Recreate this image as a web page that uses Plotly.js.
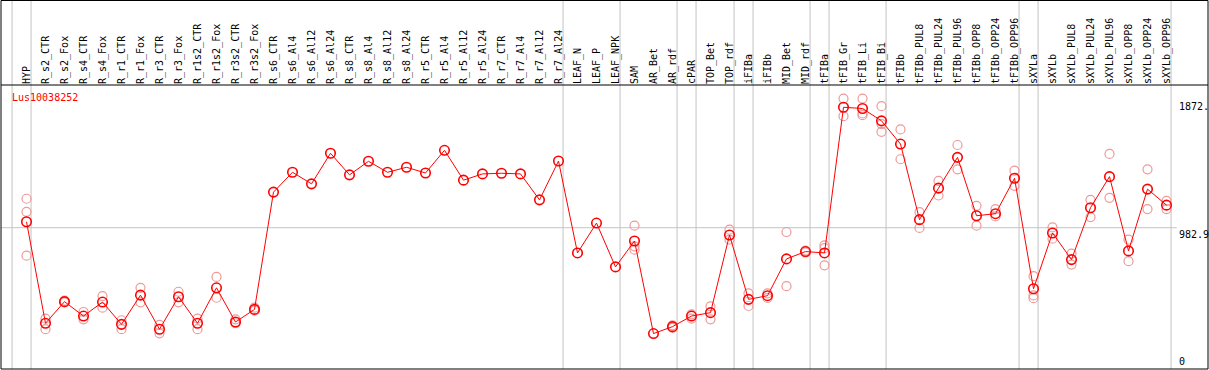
<!DOCTYPE html>
<html><head><meta charset="utf-8">
<script src="https://cdn.plot.ly/plotly-3.0.1.min.js"></script>
<style>html,body{margin:0;padding:0;background:#fff}#chart{width:1209px;height:370px}</style>
</head><body><div id="chart"></div>
<script>
const geneId = 'Lus10038252';
const categories = ['HYP','R_s2_CTR','R_s2_Fox','R_s4_CTR','R_s4_Fox','R_r1_CTR','R_r1_Fox','R_r3_CTR','R_r3_Fox','R_r1s2_CTR','R_r1s2_Fox','R_r3s2_CTR','R_r3s2_Fox','R_s6_CTR','R_s6_Al4','R_s6_Al12','R_s6_Al24','R_s8_CTR','R_s8_Al4','R_s8_Al12','R_s8_Al24','R_r5_CTR','R_r5_Al4','R_r5_Al12','R_r5_Al24','R_r7_CTR','R_r7_Al4','R_r7_Al12','R_r7_Al24','LEAF_N','LEAF_P','LEAF_NPK','SAM','AR_Bet','AR_rdf','cPAR','TOP_Bet','TOP_rdf','iFIBa','iFIBb','MID_Bet','MID_rdf','tFIBa','tFIB_Gr','tFIB_Li','tFIB_Bi','tFIBb','tFIBb_PUL8','tFIBb_PUL24','tFIBb_PUL96','tFIBb_OPP8','tFIBb_OPP24','tFIBb_OPP96','sXYLa','sXYLb','sXYLb_PUL8','sXYLb_PUL24','sXYLb_PUL96','sXYLb_OPP8','sXYLb_OPP24','sXYLb_OPP96'];
const meanVals = [1027,279,438,332,435,271,486,235,474,279,540,288,381,1245,1391,1306,1531,1372,1472,1391,1428,1386,1553,1333,1379,1384,1379,1188,1474,797,1017,694,885,203,254,332,357,929,455,482,753,807,797,1870,1861,1770,1599,1042,1274,1501,1071,1086,1347,533,944,748,1130,1359,812,1267,1149];
const rep1 = [1196,313,445,362,479,301,540,267,511,313,620,308,394,null,null,null,null,null,null,null,null,null,null,null,null,null,null,null,null,null,null,null,998,null,264,345,404,968,499,499,951,815,853,1934,1934,1878,1707,1098,1328,1592,1144,1120,1403,626,985,792,1188,1526,895,1413,1181];
const rep2 = [777,235,432,308,394,235,433,205,433,235,467,279,372,null,null,null,null,null,null,null,null,null,null,null,null,null,null,null,null,null,null,null,821,null,245,313,308,895,406,465,552,800,706,1804,1812,1689,1487,981,1220,1413,998,1066,1291,464,902,711,1061,1203,736,1120,1120];
const rep3 = [1100,null,null,null,null,null,null,null,null,null,null,null,null,null,null,null,null,null,null,null,null,null,null,null,null,null,null,null,null,null,null,null,846,null,null,null,null,null,null,null,null,null,832,null,1824,1746,null,null,null,null,null,null,null,484,null,null,null,null,null,null,null];
const separatorsAfter = ['HYP','R_r7_Al24','LEAF_NPK','AR_rdf','cPAR','TOP_rdf','iFIBa','MID_rdf','tFIBa','tFIB_Bi','tFIBb_OPP96','sXYLa','sXYLb_OPP96'];
const yTickVals = [0, 982.9, 1872];
const yTickText = ['0', '982.9', '1872.'];

const idx = categories.map((_, i) => i);
const repX = [], repY = [];
[rep1, rep2, rep3].forEach(r => r.forEach((v, i) => { if (v !== null) { repX.push(i); repY.push(v); } }));

const FONT = 'DejaVu Sans Mono, monospace';
const GRID = '#c4c4c4';
const topPaper = 1 + 84.5 / 284;

const shapes = [];
const sepIdx = [-1].concat(separatorsAfter.map(n => categories.indexOf(n)));
sepIdx.forEach(k => shapes.push({type:'line', xref:'x', yref:'paper', x0:k+0.24, x1:k+0.24, y0:0, y1:topPaper, line:{color:GRID, width:1}, layer:'below'}));
shapes.push({type:'line', xref:'paper', yref:'y', x0:0, x1:0.974, y0:yTickVals[1], y1:yTickVals[1], line:{color:GRID, width:1}, layer:'below'});
shapes.push({type:'rect', xref:'paper', yref:'paper', x0:0, x1:1, y0:0, y1:topPaper, line:{color:'#000', width:1}});
shapes.push({type:'line', xref:'paper', yref:'paper', x0:0, x1:1, y0:1, y1:1, line:{color:'#000', width:1}});

const annotations = [{xref:'paper', yref:'paper', x:0.0075, y:0.955, xanchor:'left', yanchor:'middle', text:geneId, showarrow:false, font:{family:FONT, size:10, color:'#ff0000'}}];
yTickVals.forEach((v, i) => annotations.push({xref:'paper', yref:'y', x:0.9755, y:v, xanchor:'left', yanchor: i === 1 ? 'top' : 'middle', text:yTickText[i], showarrow:false, font:{family:FONT, size:10, color:'#000'}, borderpad:0}));

const data = [
  {x:repX, y:repY, type:'scatter', mode:'markers', marker:{symbol:'circle-open', size:9, color:'#ec9a9a', line:{width:1.2}}, hoverinfo:'y'},
  {x:idx, y:meanVals, type:'scatter', mode:'lines+markers', line:{color:'#ff0000', width:1}, marker:{symbol:'circle-open', size:9.5, color:'#ff0000', line:{width:1.6}}, hoverinfo:'y'}
];

const layout = {
  width:1209, height:370,
  margin:{l:1, r:1, t:85, b:1, pad:0},
  paper_bgcolor:'#fff', plot_bgcolor:'#fff',
  showlegend:false,
  xaxis:{range:[-1.342, 62.184], tickmode:'array', tickvals:idx, ticktext:categories, side:'top', tickangle:-90, ticks:'', showgrid:false, zeroline:false, showline:false, tickfont:{family:FONT, size:10, color:'#000'}, fixedrange:true},
  yaxis:{range:[-58, 2034], showticklabels:false, showgrid:false, zeroline:false, showline:false, fixedrange:true},
  shapes:shapes,
  annotations:annotations
};
Plotly.newPlot('chart', data, layout, {displayModeBar:false, staticPlot:true});
</script></body></html>
